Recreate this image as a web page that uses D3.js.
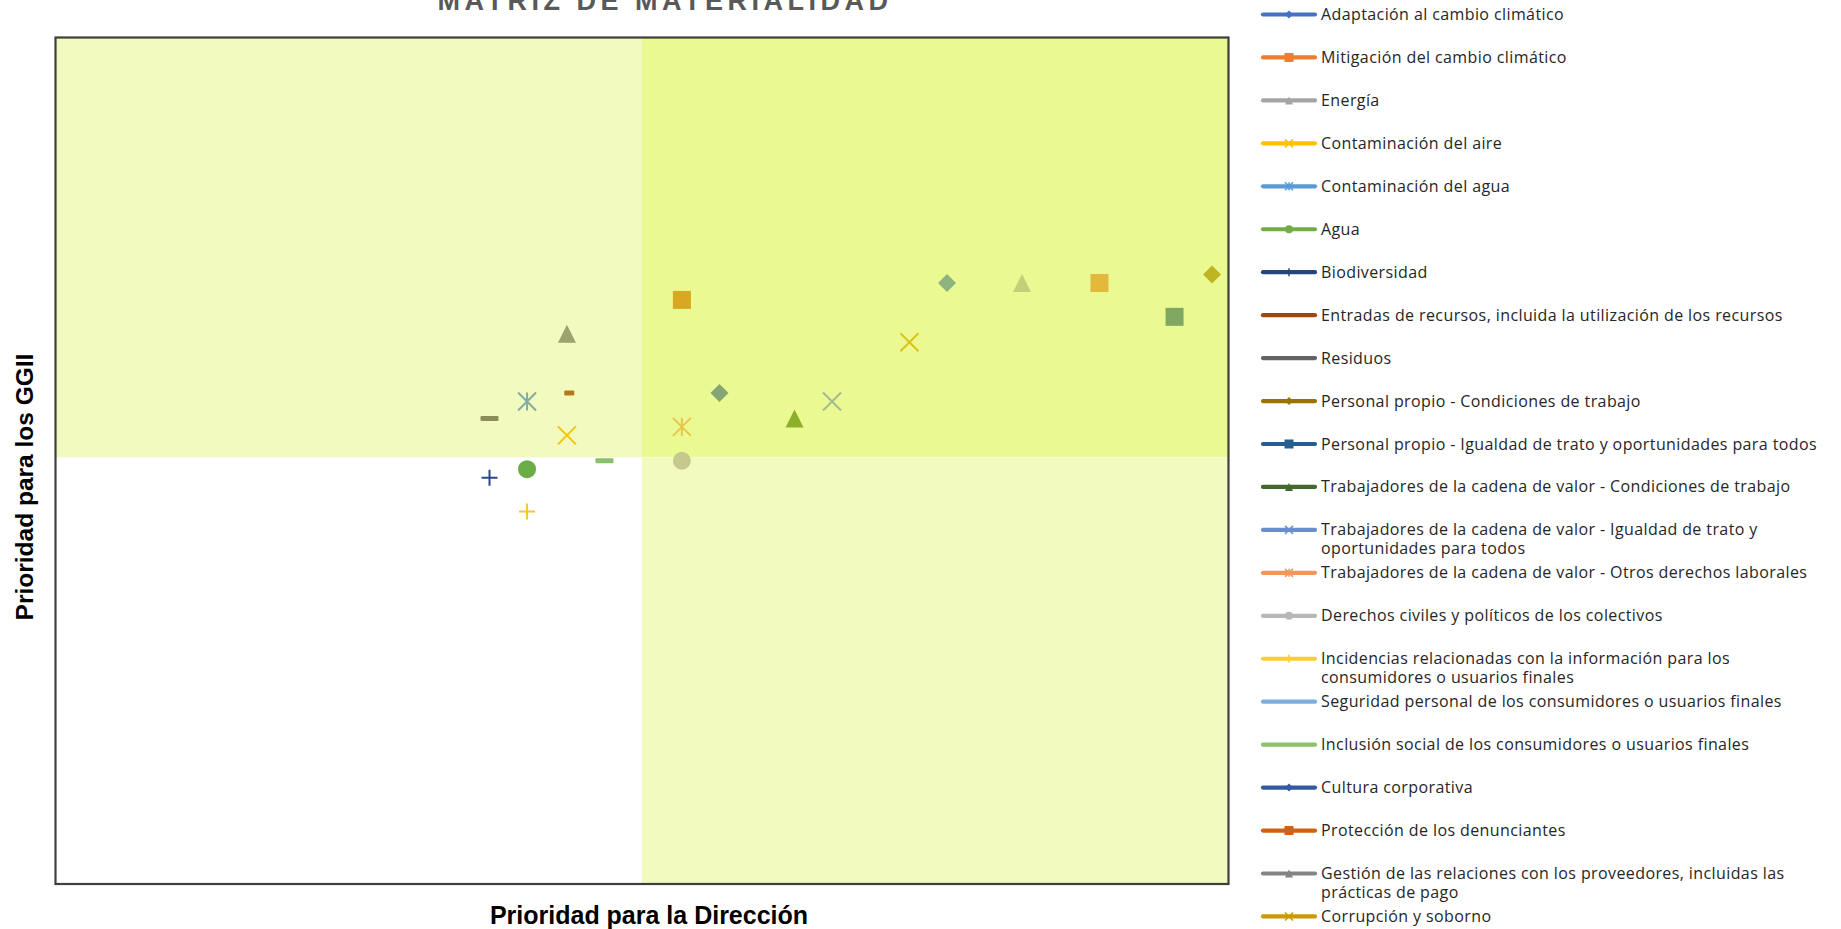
<!DOCTYPE html>
<html>
<head>
<meta charset="utf-8">
<script src="https://cdn.jsdelivr.net/npm/d3@7"></script>
<style>
  html, body { margin: 0; padding: 0; background: #fff; }
  svg { display: block; }
</style>
</head>
<body>
<div id="chart"></div>
<script>
// series (one point each)
const categories = [
  'Adaptación al cambio climático',
  'Mitigación del cambio climático',
  'Energía',
  'Contaminación del aire',
  'Contaminación del agua',
  'Agua',
  'Biodiversidad',
  'Entradas de recursos, incluida la utilización de los recursos',
  'Residuos',
  'Personal propio - Condiciones de trabajo',
  'Personal propio - Igualdad de trato y oportunidades para todos',
  'Trabajadores de la cadena de valor - Condiciones de trabajo',
  'Trabajadores de la cadena de valor - Igualdad de trato y|oportunidades para todos',
  'Trabajadores de la cadena de valor - Otros derechos laborales',
  'Derechos civiles y políticos de los colectivos',
  'Incidencias relacionadas con la información para los|consumidores o usuarios finales',
  'Seguridad personal de los consumidores o usuarios finales',
  'Inclusión social de los consumidores o usuarios finales',
  'Cultura corporativa',
  'Protección de los denunciantes',
  'Gestión de las relaciones con los proveedores, incluidas las|prácticas de pago',
  'Corrupción y soborno'
];

const legendColors = [
  '#4472c4', '#ed7d31', '#a5a5a5', '#ffc000', '#5b9bd5', '#70ad47', '#264478',
  '#9e480e', '#636363', '#997300', '#255e91', '#43682b', '#698ed0', '#f1975a',
  '#b7b7b7', '#ffcd33', '#7cafdd', '#8cc168', '#335aa1', '#d26012', '#848484', '#cc9a00'
];

const markerTypes = [
  'diamond', 'square', 'triangle', 'x', 'star', 'circle', 'plus', 'dash', 'dot',
  'diamond', 'square', 'triangle', 'x', 'star', 'circle', 'plus', 'dash', 'dot',
  'diamond', 'square', 'triangle', 'x'
];

// Prioridad para la Dirección
const xValues = [3.80, 2.67, 2.18, 2.18, 2.01, 2.01, 1.85, 1.85, 2.19, 4.93, 4.45,
  4.12, 3.31, 2.67, 2.67, 2.01, 2.34, null, 2.83, 4.77, 3.15, 3.64];

// Prioridad para los GGII
const yValues = [3.55, 3.45, 3.25, 2.65, 2.85, 2.45, 2.40, 2.75, 2.90, 3.60, 3.55,
  3.55, 2.85, 2.70, 2.50, 2.20, 2.50, null, 2.90, 3.35, 2.75, 3.20];

const pointColors = [
  '#8db47e', '#d8a821', '#9ea26e', '#f2c60a', '#7fada5', '#6aac46', '#2d4a86',
  '#8a8d58', '#b77818', '#bdb522', '#e4b83a', '#c4cf78', '#a3bb8e', '#e6c64e',
  '#c5c98e', '#f9c33d', '#88bf70', '#88bf70', '#84a574', '#7fa862', '#8caf2c', '#dcc21a'
];

const axisDomain = [0, 5];
const xSplit = 2.5;
const ySplit = 2.52;

const W = 1841, H = 929;
const plot = { left: 55.5, right: 1228.5, top: 37.5, bottom: 884 };

const svg = d3.select('#chart')
  .append('svg')
  .attr('width', W)
  .attr('height', H);

const x = d3.scaleLinear().domain(axisDomain).range([plot.left, plot.right]);
const y = d3.scaleLinear().domain(axisDomain).range([plot.bottom, plot.top]);

// quadrants
const quads = [
  { x0: axisDomain[0], x1: xSplit, y0: ySplit, y1: axisDomain[1], fill: '#f2fac0' },
  { x0: xSplit, x1: axisDomain[1], y0: ySplit, y1: axisDomain[1], fill: '#ebf993' },
  { x0: xSplit, x1: axisDomain[1], y0: axisDomain[0], y1: ySplit, fill: '#f2fac0' }
];

svg.append('g').selectAll('rect')
  .data(quads)
  .enter().append('rect')
  .attr('x', d => x(d.x0))
  .attr('y', d => y(d.y1))
  .attr('width', d => x(d.x1) - x(d.x0))
  .attr('height', d => y(d.y0) - y(d.y1))
  .attr('fill', d => d.fill);

// border
svg.append('rect')
  .attr('x', plot.left)
  .attr('y', plot.top)
  .attr('width', plot.right - plot.left)
  .attr('height', plot.bottom - plot.top)
  .attr('fill', 'none')
  .attr('stroke', 'rgba(0,0,0,0.75)')
  .attr('stroke-width', 2.2);

function drawMarker(g, type, s, color) {
  const h = s / 2;
  if (type === 'diamond') {
    g.append('path').attr('d', `M0,${-h}L${h},0L0,${h}L${-h},0Z`).attr('fill', color);
  } else if (type === 'square') {
    g.append('rect').attr('x', -h).attr('y', -h).attr('width', s).attr('height', s).attr('fill', color);
  } else if (type === 'triangle') {
    g.append('path').attr('d', `M0,${-h}L${h},${h}L${-h},${h}Z`).attr('fill', color);
  } else if (type === 'circle') {
    g.append('circle').attr('r', h).attr('fill', color);
  } else if (type === 'x' || type === 'star' || type === 'plus') {
    let d = '';
    if (type !== 'plus') d += `M${-h},${-h}L${h},${h}M${h},${-h}L${-h},${h}`;
    if (type === 'star') d += `M0,${-h}L0,${h}`;
    if (type === 'plus') d += `M${-h},0L${h},0M0,${-h}L0,${h}`;
    g.append('path').attr('d', d).attr('fill', 'none').attr('stroke', color)
      .attr('stroke-width', s > 12 ? 2 : 1.5);
  } else if (type === 'dash') {
    g.append('rect').attr('x', -h).attr('y', -2.5).attr('width', s).attr('height', 5)
      .attr('rx', 1).attr('fill', color);
  } else if (type === 'dot') {
    g.append('rect').attr('x', -5).attr('y', -2.5).attr('width', 10).attr('height', 5)
      .attr('rx', 1).attr('fill', color);
  }
}

// points
const points = categories.map((c, i) => ({ i: i, x: xValues[i], y: yValues[i] }))
  .filter(d => d.x !== null && d.y !== null);

svg.append('g').selectAll('g')
  .data(points)
  .enter().append('g')
  .attr('transform', d => 'translate(' + x(d.x) + ',' + y(d.y) + ')')
  .each(function (d) {
    const size = markerTypes[d.i] === 'plus' ? 16 : 18;
    drawMarker(d3.select(this), markerTypes[d.i], size, pointColors[d.i]);
  });

// title (cut at the top edge, as in the original)
svg.append('text')
  .attr('x', 665)
  .attr('y', 10)
  .attr('text-anchor', 'middle')
  .attr('font-family', 'Liberation Sans, Arial, sans-serif')
  .attr('font-weight', 'bold')
  .attr('font-size', 27)
  .attr('letter-spacing', 4.5)
  .attr('fill', '#595959')
  .text('MATRIZ DE MATERIALIDAD');

// axis titles
svg.append('text')
  .attr('x', (plot.left + plot.right) / 2 + 7)
  .attr('y', 924)
  .attr('text-anchor', 'middle')
  .attr('font-family', 'Liberation Sans, Arial, sans-serif')
  .attr('font-weight', 'bold')
  .attr('font-size', 25)
  .attr('fill', '#000')
  .text('Prioridad para la Dirección');

svg.append('text')
  .attr('transform', 'translate(33,487) rotate(-90)')
  .attr('text-anchor', 'middle')
  .attr('font-family', 'Liberation Sans, Arial, sans-serif')
  .attr('font-weight', 'bold')
  .attr('font-size', 24.5)
  .attr('fill', '#000')
  .text('Prioridad para los GGII');

// legend
const legend = svg.append('g').attr('transform', 'translate(1263,14.5)');
const rowH = 42.95;

const item = legend.selectAll('g')
  .data(categories)
  .enter().append('g')
  .attr('transform', (d, i) => 'translate(0,' + (i * rowH) + ')');

item.append('line')
  .attr('x1', 0)
  .attr('x2', 52)
  .attr('y1', 0)
  .attr('y2', 0)
  .attr('stroke', (d, i) => legendColors[i])
  .attr('stroke-width', 4.2)
  .attr('stroke-linecap', 'round');

item.append('g')
  .attr('transform', 'translate(26,0)')
  .each(function (d, i) {
    const t = markerTypes[i];
    if (t === 'dash' || t === 'dot') return;
    drawMarker(d3.select(this), t, t === 'square' ? 9 : 8, legendColors[i]);
  });

item.append('text')
  .attr('x', 58)
  .attr('y', 5.5)
  .attr('font-family', 'Open Sans, sans-serif')
  .attr('font-size', 16)
  .attr('letter-spacing', 0.4)
  .attr('fill', '#262626')
  .each(function (d) {
    const lines = d.split('|');
    d3.select(this).selectAll('tspan')
      .data(lines)
      .enter().append('tspan')
      .attr('x', 58)
      .attr('dy', (l, j) => j === 0 ? 0 : 19)
      .text(l => l);
  });
</script>
</body>
</html>
